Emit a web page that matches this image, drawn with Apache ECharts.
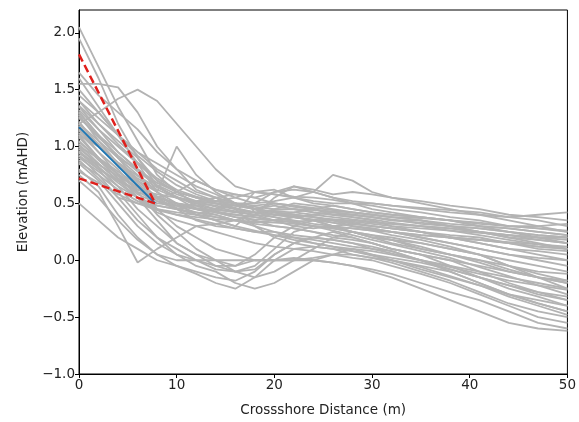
<!DOCTYPE html>
<html>
<head>
<meta charset="utf-8">
<script src="https://cdn.jsdelivr.net/npm/echarts@6/dist/echarts.min.js"></script>
<style>html,body{margin:0;padding:0;background:#fff}#c{width:579px;height:422px}</style>
</head>
<body>
<div id="c"></div>
<script>
// Crossshore positions (m) shared by the gray profiles
const distances = [0,2,4,6,8,10,12,14,16,18,20,22,24,26,28,30,32,35,38,41,44,47,50];

// Surveyed profiles (elevation, mAHD)
const profiles = [
  [2.05,1.7,1.35,1.05,0.75,0.6,0.55,0.5,0.48,0.45,0.42,0.4,0.38,0.35,0.33,0.3,0.28,0.25,0.2,0.15,0.1,0.05,0.0],
  [1.95,1.6,1.2,0.9,0.65,0.55,0.5,0.52,0.5,0.45,0.48,0.45,0.42,0.4,0.38,0.36,0.33,0.3,0.28,0.25,0.22,0.2,0.18],
  [1.55,1.55,1.52,1.3,1.0,0.8,0.62,0.55,0.5,0.48,0.5,0.47,0.45,0.42,0.4,0.38,0.35,0.33,0.3,0.28,0.25,0.22,0.2],
  [1.2,1.3,1.42,1.5,1.4,1.2,1.0,0.8,0.65,0.6,0.58,0.55,0.52,0.5,0.5,0.48,0.45,0.42,0.38,0.35,0.3,0.28,0.25],
  [1.65,1.45,1.3,1.15,0.95,0.8,0.7,0.62,0.58,0.55,0.6,0.62,0.6,0.55,0.52,0.5,0.48,0.45,0.42,0.4,0.38,0.4,0.42],
  [1.3,1.1,0.9,0.75,0.6,1.0,0.75,0.6,0.5,0.45,0.42,0.4,0.38,0.35,0.3,0.28,0.25,0.2,0.15,0.1,0.05,0.0,-0.05],
  [1.45,1.3,1.1,0.95,0.85,0.75,0.65,0.58,0.5,0.45,0.4,0.38,0.35,0.3,0.25,0.2,0.18,0.1,0.05,0.0,-0.08,-0.15,-0.2],
  [1.4,1.2,1.05,0.9,0.7,0.6,0.5,0.45,0.42,0.4,0.55,0.65,0.6,0.55,0.5,0.45,0.42,0.38,0.35,0.3,0.25,0.2,0.15],
  [1.35,1.15,0.95,0.8,0.65,0.55,0.45,0.4,0.35,0.32,0.3,0.28,0.25,0.22,0.2,0.15,0.1,0.05,-0.05,-0.15,-0.25,-0.32,-0.4],
  [1.3,1.1,0.9,0.7,0.55,0.45,0.35,0.3,0.28,0.25,0.25,0.22,0.2,0.18,0.15,0.12,0.08,0.0,-0.1,-0.2,-0.3,-0.38,-0.45],
  [1.28,1.05,0.85,0.65,0.45,0.3,0.2,0.1,0.05,0.0,0.0,0.0,0.0,-0.02,-0.05,-0.1,-0.15,-0.25,-0.35,-0.45,-0.55,-0.6,-0.62],
  [1.25,1.1,0.95,0.8,0.65,0.55,0.52,0.5,0.48,0.47,0.45,0.45,0.42,0.4,0.4,0.38,0.35,0.35,0.3,0.28,0.25,0.22,0.2],
  [1.22,1.0,0.85,0.7,0.6,0.5,0.4,0.35,0.3,0.45,0.5,0.48,0.45,0.4,0.38,0.35,0.3,0.25,0.2,0.15,0.1,0.08,0.05],
  [1.2,1.05,0.9,0.8,0.68,0.6,0.55,0.5,0.45,0.42,0.4,0.42,0.45,0.48,0.45,0.42,0.4,0.38,0.35,0.32,0.3,0.3,0.32],
  [1.15,0.95,0.8,0.6,0.4,0.25,0.1,0.0,-0.1,-0.15,-0.1,0.0,0.1,0.2,0.25,0.22,0.18,0.12,0.05,-0.02,-0.1,-0.15,-0.2],
  [1.12,0.95,0.75,0.55,0.35,0.15,0.05,0.0,-0.05,0.05,0.2,0.3,0.35,0.3,0.25,0.2,0.15,0.1,0.05,0.0,-0.05,-0.1,-0.12],
  [1.1,0.9,0.72,0.58,0.5,0.48,0.45,0.42,0.4,0.38,0.35,0.38,0.4,0.42,0.4,0.38,0.36,0.32,0.3,0.25,0.22,0.18,0.15],
  [1.05,0.88,0.72,0.6,0.55,0.5,0.48,0.45,0.42,0.6,0.62,0.55,0.5,0.48,0.45,0.42,0.4,0.38,0.35,0.3,0.28,0.25,0.22],
  [1.02,0.85,0.7,0.55,0.42,0.35,0.3,0.32,0.35,0.4,0.35,0.3,0.28,0.3,0.32,0.3,0.28,0.25,0.2,0.18,0.15,0.1,0.08],
  [1.0,0.82,0.65,0.45,0.3,0.15,0.05,-0.05,-0.1,-0.08,0.05,0.15,0.2,0.18,0.15,0.1,0.08,0.0,-0.08,-0.15,-0.22,-0.28,-0.32],
  [0.98,0.85,0.7,0.6,0.52,0.48,0.45,0.43,0.4,0.38,0.35,0.33,0.3,0.28,0.25,0.22,0.2,0.15,0.1,0.05,0.0,-0.05,-0.1],
  [0.95,0.8,0.6,0.4,0.2,0.05,0.0,-0.08,-0.1,-0.05,0.1,0.25,0.3,0.28,0.25,0.2,0.18,0.15,0.1,0.05,-0.05,-0.15,-0.25],
  [0.92,0.75,0.55,0.35,0.2,0.1,0.0,-0.05,-0.05,0.0,0.0,0.0,0.02,0.05,0.1,0.08,0.05,0.0,-0.05,-0.1,-0.15,-0.2,-0.25],
  [0.9,0.78,0.65,0.55,0.45,0.42,0.4,0.45,0.5,0.45,0.4,0.38,0.35,0.33,0.3,0.28,0.25,0.22,0.2,0.18,0.15,0.12,0.1],
  [0.88,0.72,0.55,0.5,0.48,0.45,0.5,0.55,0.5,0.45,0.42,0.38,0.35,0.35,0.32,0.3,0.28,0.25,0.22,0.2,0.15,0.12,0.1],
  [0.85,0.7,0.5,0.3,0.15,0.05,-0.05,-0.1,-0.2,-0.25,-0.2,-0.1,0.0,0.05,0.05,0.02,0.0,-0.05,-0.1,-0.2,-0.3,-0.38,-0.45],
  [0.8,0.65,0.4,0.2,0.05,-0.05,-0.12,-0.2,-0.25,-0.15,0.0,0.1,0.12,0.1,0.05,0.02,-0.02,-0.1,-0.18,-0.28,-0.38,-0.45,-0.5],
  [0.75,0.6,0.3,-0.02,0.1,0.2,0.3,0.25,0.2,0.15,0.12,0.1,0.08,0.05,0.02,0.0,-0.05,-0.12,-0.2,-0.3,-0.4,-0.5,-0.55],
  [0.7,0.55,0.35,0.18,0.05,0.0,0.0,0.0,0.0,0.0,0.0,0.02,0.0,-0.02,-0.05,-0.08,-0.12,-0.2,-0.28,-0.35,-0.45,-0.55,-0.6],
  [0.5,0.35,0.2,0.1,0.0,-0.05,-0.1,-0.15,-0.18,-0.1,0.05,0.15,0.2,0.25,0.2,0.15,0.1,0.05,0.0,-0.05,-0.1,-0.15,-0.18],
  [1.18,1.0,0.85,0.7,0.55,0.6,0.7,0.62,0.55,0.5,0.6,0.65,0.62,0.58,0.6,0.58,0.55,0.52,0.48,0.45,0.4,0.38,0.35],
  [1.08,0.9,0.75,0.62,0.55,0.5,0.45,0.42,0.38,0.35,0.3,0.28,0.25,0.2,0.18,0.15,0.1,0.05,0.0,-0.1,-0.2,-0.28,-0.35],
  [1.32,1.15,1.0,0.85,0.7,0.6,0.55,0.52,0.5,0.5,0.52,0.55,0.6,0.75,0.7,0.6,0.55,0.5,0.45,0.4,0.35,0.3,0.25],
  [0.96,0.82,0.68,0.55,0.48,0.45,0.42,0.4,0.35,0.3,0.25,0.2,0.15,0.12,0.1,0.05,0.0,-0.08,-0.15,-0.22,-0.3,-0.35,-0.4],
  [1.4,1.25,1.1,0.95,0.8,0.7,0.6,0.55,0.45,0.3,0.2,0.15,0.12,0.1,0.08,0.05,0.02,-0.02,-0.08,-0.15,-0.22,-0.3,-0.35],
  [1.6,1.35,1.1,0.85,0.6,0.45,0.4,0.38,0.35,0.4,0.45,0.5,0.48,0.45,0.42,0.4,0.38,0.35,0.32,0.3,0.28,0.25,0.22],
  [1.1,1.0,0.85,0.72,0.62,0.55,0.5,0.48,0.45,0.42,0.4,0.4,0.38,0.36,0.35,0.33,0.32,0.3,0.28,0.25,0.2,0.15,0.1],
  [0.92,0.8,0.7,0.62,0.58,0.55,0.52,0.55,0.58,0.55,0.5,0.48,0.46,0.44,0.42,0.4,0.38,0.35,0.3,0.25,0.2,0.18,0.15],
  [1.26,1.08,0.92,0.78,0.66,0.58,0.52,0.47,0.43,0.4,0.38,0.35,0.32,0.3,0.28,0.26,0.22,0.18,0.12,0.05,-0.05,-0.12,-0.18],
  [1.0,0.9,0.78,0.66,0.56,0.48,0.42,0.38,0.35,0.33,0.35,0.38,0.36,0.33,0.3,0.27,0.25,0.2,0.15,0.1,0.05,0.02,0.0],
  [1.36,1.2,1.02,0.86,0.72,0.62,0.56,0.52,0.55,0.6,0.58,0.56,0.55,0.53,0.5,0.5,0.48,0.46,0.44,0.42,0.38,0.35,0.3],
  [0.86,0.75,0.62,0.52,0.45,0.4,0.36,0.32,0.28,0.25,0.22,0.2,0.18,0.15,0.12,0.1,0.06,0.0,-0.06,-0.12,-0.18,-0.22,-0.26],
  [1.14,1.0,0.86,0.74,0.64,0.56,0.48,0.42,0.38,0.36,0.35,0.34,0.35,0.36,0.34,0.32,0.3,0.28,0.26,0.24,0.22,0.2,0.2],
  [1.2,1.02,0.84,0.68,0.52,0.45,0.48,0.5,0.46,0.42,0.38,0.34,0.3,0.26,0.22,0.18,0.14,0.08,0.02,-0.06,-0.14,-0.22,-0.3],
  [0.78,0.68,0.58,0.5,0.44,0.4,0.38,0.36,0.35,0.34,0.33,0.32,0.3,0.29,0.28,0.26,0.25,0.22,0.2,0.18,0.16,0.14,0.12],
  [1.5,1.3,1.1,0.92,0.78,0.66,0.58,0.52,0.48,0.45,0.43,0.42,0.4,0.38,0.36,0.34,0.32,0.3,0.26,0.22,0.18,0.14,0.1],
  [1.04,0.9,0.76,0.64,0.54,0.46,0.4,0.35,0.3,0.26,0.22,0.18,0.15,0.12,0.08,0.04,0.0,-0.06,-0.14,-0.22,-0.32,-0.4,-0.48],
  [0.94,0.84,0.74,0.64,0.56,0.5,0.46,0.44,0.43,0.42,0.44,0.45,0.44,0.43,0.42,0.4,0.38,0.37,0.35,0.33,0.3,0.28,0.26]
];

// Fitted slope (blue) and envelope (red dashed)
const fitX = [0, 7.8];
const fitY = [1.17, 0.5];
const upperY = [1.81, 0.5];
const lowerY = [0.72, 0.5];

const xTicks = [0,10,20,30,40,50];
const yTicks = [-1.0,-0.5,0.0,0.5,1.0,1.5,2.0];

const pairs = (xs, ys) => xs.map((x, i) => [x, ys[i]]);
const fmtY = v => (v < 0 ? '\u2212' : '') + Math.abs(v).toFixed(1);
const font = 'DejaVu Sans';
const fs = 13.5;

const series = profiles.map(p => ({
  type: 'line', data: pairs(distances, p), symbol: 'none', silent: true,
  lineStyle: { color: '#b3b3b3', width: 1.8 }, z: 2
}));
series.push({ type: 'line', data: pairs(fitX, fitY), symbol: 'none', silent: true,
  lineStyle: { color: '#1f77b4', width: 2 }, z: 3 });
series.push({ type: 'line', data: pairs(fitX, upperY), symbol: 'none', silent: true,
  lineStyle: { color: '#e0201c', width: 2.5, type: [8, 4] }, z: 4 });
series.push({ type: 'line', data: pairs(fitX, lowerY), symbol: 'none', silent: true,
  lineStyle: { color: '#e0201c', width: 2.5, type: [8, 4] }, z: 4 });

const chart = echarts.init(document.getElementById('c'), null, { renderer: 'canvas' });
chart.setOption({
  animation: false,
  backgroundColor: '#fff',
  grid: { left: 79, right: 11, top: 10, bottom: 48, show: true, borderColor: '#000', borderWidth: 1, backgroundColor: 'transparent' },
  xAxis: {
    type: 'value', min: 0, max: 50, interval: 10,
    name: 'Crossshore Distance (m)', nameLocation: 'middle', nameGap: 29,
    nameTextStyle: { fontFamily: font, fontSize: fs, color: '#222' },
    axisLine: { show: true, onZero: false, lineStyle: { color: '#000', width: 1 } },
    axisTick: { show: true, inside: false, length: 4, lineStyle: { color: '#000' }, customValues: xTicks },
    axisLabel: { fontFamily: font, fontSize: fs, color: '#222', margin: 4, customValues: xTicks },
    splitLine: { show: false }
  },
  yAxis: {
    type: 'value', min: -1.0, max: 2.2, interval: 0.5,
    name: 'Elevation (mAHD)', nameLocation: 'middle', nameGap: 49, nameRotate: 90,
    nameTextStyle: { fontFamily: font, fontSize: fs, color: '#222' },
    axisLine: { show: true, onZero: false, lineStyle: { color: '#000', width: 1 } },
    axisTick: { show: true, inside: false, length: 4, lineStyle: { color: '#000' }, customValues: yTicks },
    axisLabel: { fontFamily: font, fontSize: fs, color: '#222', margin: 4, formatter: fmtY, customValues: yTicks },
    splitLine: { show: false }
  },
  series: series
});
</script>
</body>
</html>
